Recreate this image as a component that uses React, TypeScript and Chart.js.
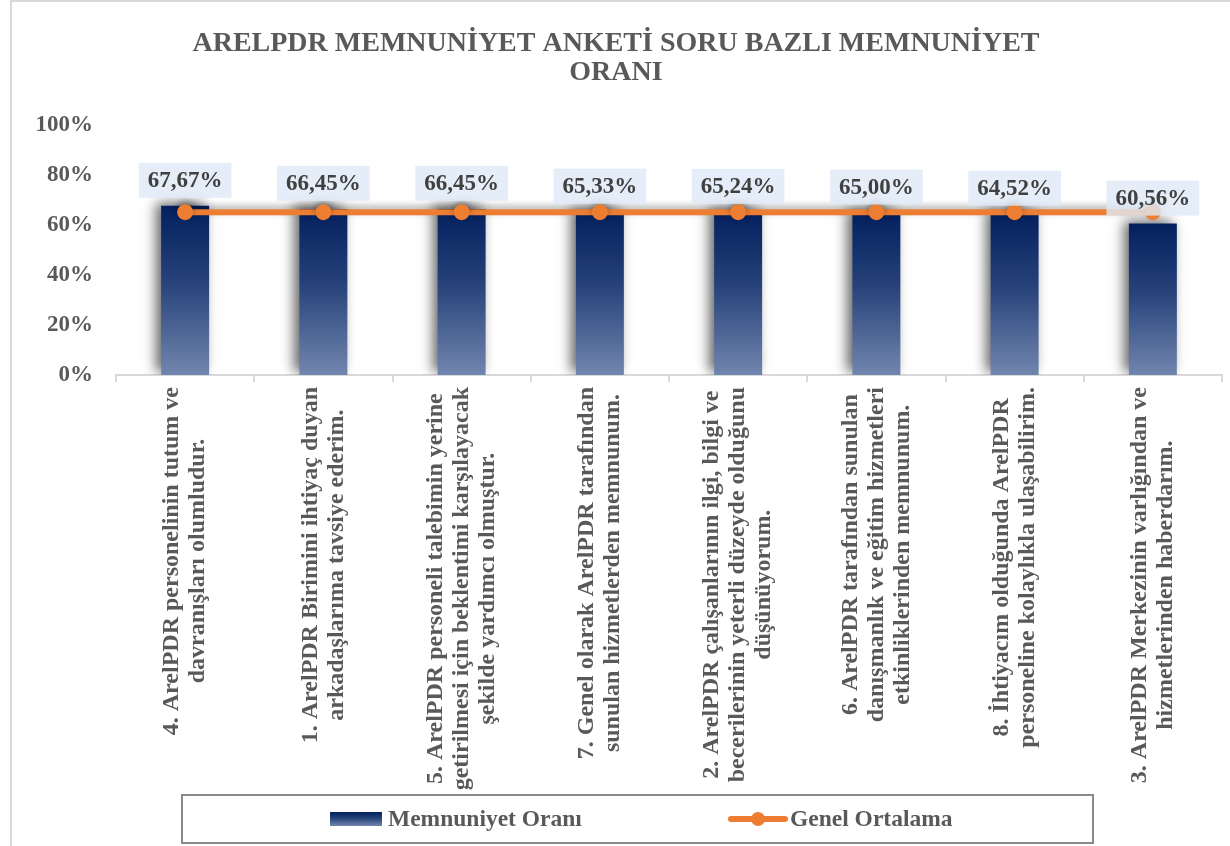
import React, { useEffect, useRef } from "react";
import { Chart, registerables } from "chart.js";

Chart.register(...registerables);

const FONT = "'Liberation Serif', 'Times New Roman', serif";

const titleLines = ["ARELPDR MEMNUNİYET ANKETİ SORU BAZLI MEMNUNİYET", "ORANI"];

const categories: string[][] = [
  ["4. ArelPDR personelinin tutum ve", "davranışları olumludur."],
  ["1. ArelPDR Birimini ihtiyaç duyan", "arkadaşlarıma tavsiye ederim."],
  [
    "5. ArelPDR personeli talebimin yerine",
    "getirilmesi için beklentimi karşılayacak",
    "şekilde yardımcı olmuştur.",
  ],
  ["7. Genel olarak ArelPDR tarafından", "sunulan hizmetlerden memnunum."],
  [
    "2. ArelPDR çalışanlarının ilgi, bilgi ve",
    "becerilerinin yeterli düzeyde olduğunu",
    "düşünüyorum.",
  ],
  [
    "6. ArelPDR tarafından sunulan",
    "danışmanlık ve eğitim hizmetleri",
    "etkinliklerinden memnunum.",
  ],
  ["8. İhtiyacım olduğunda ArelPDR", "personeline kolaylıkla ulaşabilirim."],
  ["3. ArelPDR Merkezinin varlığından ve", "hizmetlerinden haberdarım."],
];

const satisfactionRates = [67.67, 66.45, 66.45, 65.33, 65.24, 65.0, 64.52, 60.56];
const overallAverage = [65.15, 65.15, 65.15, 65.15, 65.15, 65.15, 65.15, 65.15];
const yTickValues = [0, 20, 40, 60, 80, 100];
const seriesNames = ["Memnuniyet Oranı", "Genel Ortalama"];

const ORANGE = "#ED7D31";
const TEXT_GRAY = "#595959";

function fmtPct(v: number): string {
  return v.toFixed(2).replace(".", ",") + "%";
}

function barGradient(ctx: CanvasRenderingContext2D, top: number, bottom: number) {
  const g = ctx.createLinearGradient(0, top, 0, bottom);
  g.addColorStop(0, "#03205e");
  g.addColorStop(0.45, "#27427a");
  g.addColorStop(1, "#7186ae");
  return g;
}

const customPlugin = {
  id: "customDraw",
  beforeDraw(chart: any) {
    const ctx = chart.ctx as CanvasRenderingContext2D;
    ctx.save();
    ctx.fillStyle = "#ffffff";
    ctx.fillRect(0, 0, chart.width, chart.height);
    ctx.strokeStyle = "#d9d9d9";
    ctx.lineWidth = 2;
    ctx.beginPath();
    ctx.moveTo(11, chart.height);
    ctx.lineTo(11, 1);
    ctx.lineTo(chart.width, 1);
    ctx.stroke();
    ctx.restore();
  },
  beforeDatasetDraw(chart: any, args: any) {
    const ctx = chart.ctx as CanvasRenderingContext2D;
    ctx.save();
    if (args.index === 0) {
      ctx.shadowColor = "rgba(0,0,0,0.6)";
      ctx.shadowBlur = 12;
      ctx.shadowOffsetX = -5;
      ctx.shadowOffsetY = -3;
    } else {
      ctx.shadowColor = "rgba(0,0,0,0.35)";
      ctx.shadowBlur = 7;
      ctx.shadowOffsetX = 0;
      ctx.shadowOffsetY = -3;
    }
  },
  afterDatasetDraw(chart: any) {
    chart.ctx.restore();
  },
  afterDraw(chart: any) {
    const ctx = chart.ctx as CanvasRenderingContext2D;
    const xScale = chart.scales.x;
    const area = chart.chartArea;

    // Title
    ctx.save();
    ctx.fillStyle = TEXT_GRAY;
    ctx.font = `bold 28px ${FONT}`;
    ctx.textAlign = "center";
    ctx.textBaseline = "middle";
    titleLines.forEach((t, i) => ctx.fillText(t, 616, 44 + i * 29));
    ctx.restore();

    // Data labels for bars
    const barMeta = chart.getDatasetMeta(0);
    ctx.save();
    ctx.font = `bold 23px ${FONT}`;
    ctx.textAlign = "center";
    ctx.textBaseline = "middle";
    barMeta.data.forEach((el: any, i: number) => {
      const txt = fmtPct(satisfactionRates[i]);
      const w = ctx.measureText(txt).width + 18;
      const h = 35;
      const bottom = el.y - 8;
      ctx.fillStyle = "rgba(222,234,246,0.8)";
      ctx.fillRect(el.x - w / 2, bottom - h, w, h);
      ctx.fillStyle = "#404040";
      ctx.fillText(txt, el.x, bottom - h / 2 + 1);
    });
    ctx.restore();

    // Category labels (rotated, lines centered)
    ctx.save();
    ctx.font = `bold 24px ${FONT}`;
    ctx.fillStyle = TEXT_GRAY;
    ctx.textAlign = "center";
    ctx.textBaseline = "middle";
    const lineH = 26;
    categories.forEach((lines, i) => {
      const cx = xScale.getPixelForTick(i);
      const maxW = Math.max(...lines.map((l) => ctx.measureText(l).width));
      const topY = area.bottom + 12;
      ctx.save();
      ctx.translate(cx, topY + maxW / 2);
      ctx.rotate(-Math.PI / 2);
      lines.forEach((l, j) => {
        ctx.fillText(l, 0, (j - (lines.length - 1) / 2) * lineH);
      });
      ctx.restore();
    });
    ctx.restore();

    // Legend
    ctx.save();
    ctx.strokeStyle = "#8a8a8a";
    ctx.lineWidth = 2;
    ctx.strokeRect(182, 795, 911, 48);
    const ly = 819;
    ctx.fillStyle = barGradient(ctx, ly - 7, ly + 7);
    ctx.fillRect(330, ly - 7, 52, 14);
    ctx.font = `bold 23.5px ${FONT}`;
    ctx.fillStyle = TEXT_GRAY;
    ctx.textAlign = "left";
    ctx.textBaseline = "middle";
    ctx.fillText(chart.data.datasets[0].label, 388, ly + 1);
    ctx.strokeStyle = ORANGE;
    ctx.lineWidth = 6;
    ctx.lineCap = "round";
    ctx.beginPath();
    ctx.moveTo(731, ly);
    ctx.lineTo(785, ly);
    ctx.stroke();
    ctx.fillStyle = ORANGE;
    ctx.beginPath();
    ctx.arc(758, ly, 7, 0, Math.PI * 2);
    ctx.fill();
    ctx.fillStyle = TEXT_GRAY;
    ctx.fillText(chart.data.datasets[1].label, 790, ly + 1);
    ctx.restore();
  },
};

export default function App() {
  const canvasRef = useRef<HTMLCanvasElement | null>(null);

  useEffect(() => {
    const canvas = canvasRef.current;
    if (!canvas) return;
    const chart = new Chart(canvas, {
      type: "bar",
      data: {
        labels: categories,
        datasets: [
          {
            type: "bar",
            label: seriesNames[0],
            data: satisfactionRates,
            order: 2,
            categoryPercentage: 1,
            barPercentage: 0.347,
            backgroundColor: (c: any) => {
              const ch = c.chart;
              if (!ch.chartArea || c.type !== "data") return "#1b3570";
              const top = ch.scales.y.getPixelForValue(c.raw);
              const bottom = ch.scales.y.getPixelForValue(0);
              return barGradient(ch.ctx, top, bottom);
            },
            borderWidth: 0,
          },
          {
            type: "line",
            label: seriesNames[1],
            data: overallAverage,
            order: 1,
            borderColor: ORANGE,
            borderWidth: 6,
            pointRadius: 8,
            pointHoverRadius: 8,
            pointBackgroundColor: ORANGE,
            pointBorderWidth: 0,
            tension: 0,
          },
        ],
      } as any,
      options: {
        animation: false,
        responsive: false,
        devicePixelRatio: 1,
        layout: { padding: { left: 11, right: 8, top: 125, bottom: 0 } },
        plugins: {
          legend: { display: false },
          title: { display: false },
          tooltip: { enabled: false },
        },
        scales: {
          x: {
            grid: {
              display: true,
              drawOnChartArea: false,
              drawTicks: true,
              tickLength: 7,
              color: "#d9d9d9",
              lineWidth: 2,
              offset: true,
            },
            border: { display: true, color: "#d9d9d9", width: 2 },
            ticks: { display: false },
            afterFit: (s: any) => {
              s.height = 846 - 375;
            },
          },
          y: {
            min: 0,
            max: 100,
            afterBuildTicks: (s: any) => {
              s.ticks = yTickValues.map((v) => ({ value: v }));
            },
            afterFit: (s: any) => {
              s.width = 105;
            },
            grid: { display: false, drawTicks: false },
            border: { display: false },
            ticks: {
              padding: 23,
              color: TEXT_GRAY,
              font: { family: FONT, size: 23, weight: "bold" },
              callback: (v: any) => v + "%",
            },
          },
        },
      } as any,
      plugins: [customPlugin],
    });
    return () => chart.destroy();
  }, []);

  return (
    <div style={{ position: "absolute", left: 0, top: 0, width: 1230, height: 846, background: "#fff" }}>
      <canvas ref={canvasRef} width={1230} height={846} style={{ display: "block" }} />
    </div>
  );
}
